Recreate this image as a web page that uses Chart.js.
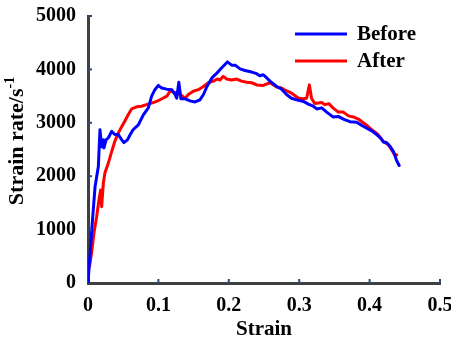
<!DOCTYPE html>
<html>
<head>
<meta charset="utf-8">
<script src="https://cdn.jsdelivr.net/npm/chart.js@4/dist/chart.umd.min.js"></script>
<style>
  body { margin: 0; background: #fff; }
</style>
</head>
<body>
<canvas id="chart" width="451" height="340"></canvas>
<script>
// values
const beforeStrain = [0, 0.005, 0.010, 0.0123, 0.0147, 0.017, 0.0194, 0.0218, 0.0227, 0.0256, 0.029, 0.0336, 0.038, 0.043, 0.048, 0.051, 0.056, 0.060, 0.064, 0.0715, 0.0786, 0.0857, 0.0904, 0.095, 0.0999, 0.1047, 0.1118, 0.119, 0.1236, 0.126, 0.129, 0.132, 0.138, 0.145, 0.152, 0.159, 0.164, 0.169, 0.176, 0.183, 0.190, 0.198, 0.204, 0.209, 0.216, 0.223, 0.2325, 0.2396, 0.244, 0.249, 0.254, 0.2585, 0.268, 0.275, 0.282, 0.289, 0.299, 0.306, 0.313, 0.320, 0.325, 0.332, 0.339, 0.348, 0.3555, 0.3627, 0.372, 0.3817, 0.389, 0.396, 0.403, 0.410, 0.416, 0.4195, 0.424, 0.429, 0.434, 0.4385, 0.442];
const beforeRate = [0, 940, 1800, 1990, 2180, 2870, 2550, 2680, 2530, 2680, 2720, 2840, 2780, 2780, 2680, 2630, 2680, 2780, 2870, 2960, 3150, 3280, 3500, 3620, 3700, 3650, 3630, 3620, 3530, 3460, 3760, 3450, 3450, 3410, 3390, 3430, 3530, 3680, 3840, 3930, 4030, 4140, 4080, 4080, 4010, 3980, 3950, 3920, 3880, 3900, 3840, 3780, 3680, 3630, 3530, 3460, 3420, 3400, 3350, 3310, 3260, 3280, 3200, 3110, 3120, 3070, 3020, 3010, 2950, 2900, 2850, 2780, 2710, 2640, 2630, 2560, 2460, 2290, 2200];

const afterStrain = [0.002, 0.005, 0.0085, 0.0123, 0.0156, 0.018, 0.0194, 0.0218, 0.024, 0.029, 0.0336, 0.038, 0.043, 0.048, 0.0526, 0.057, 0.062, 0.069, 0.076, 0.083, 0.0905, 0.0976, 0.105, 0.112, 0.1165, 0.1236, 0.131, 0.138, 0.1425, 0.1496, 0.1567, 0.164, 0.171, 0.178, 0.1837, 0.1875, 0.192, 0.197, 0.204, 0.211, 0.218, 0.2255, 0.2325, 0.2396, 0.249, 0.2585, 0.268, 0.275, 0.280, 0.287, 0.2917, 0.299, 0.306, 0.3105, 0.3145, 0.3175, 0.322, 0.332, 0.3366, 0.342, 0.348, 0.3555, 0.3627, 0.370, 0.377, 0.384, 0.391, 0.398, 0.405, 0.412, 0.4195, 0.4265, 0.431, 0.4347, 0.4385];
const afterRate = [300, 560, 940, 1240, 1560, 1740, 1430, 1870, 2060, 2250, 2460, 2650, 2810, 2930, 3040, 3150, 3260, 3300, 3310, 3340, 3370, 3400, 3450, 3500, 3590, 3570, 3530, 3460, 3530, 3590, 3620, 3680, 3750, 3780, 3820, 3800, 3870, 3820, 3800, 3820, 3780, 3760, 3750, 3710, 3700, 3750, 3670, 3650, 3610, 3570, 3530, 3460, 3450, 3460, 3710, 3460, 3360, 3380, 3340, 3360, 3280, 3200, 3200, 3130, 3110, 3070, 3000, 2930, 2850, 2780, 2650, 2590, 2500, 2420, 2400];

const xTickLabels = ['0', '0.1', '0.2', '0.3', '0.4', '0.5'];
const yTickLabels = ['0', '1000', '2000', '3000', '4000', '5000'];
const seriesNames = ['Before', 'After'];

const toPoints = (xs, ys) => xs.map((x, i) => ({ x: x, y: ys[i] }));

const FONT = 'Liberation Serif, "Times New Roman", serif';
const AXIS_COLOR = '#404040';

// small inward tick marks, the y title with superscript, and the legend
const extrasPlugin = {
    id: 'extras',
    afterDraw(chart) {
        const ctx = chart.ctx;
        const xs = chart.scales.x, ys = chart.scales.y;
        const area = chart.chartArea;
        ctx.save();
        ctx.strokeStyle = '#2b4a74';
        ctx.lineWidth = 2;
        xs.ticks.forEach(t => {
            if (t.value === 0) return;
            const px = xs.getPixelForValue(t.value);
            ctx.beginPath();
            ctx.moveTo(px, area.bottom);
            ctx.lineTo(px, area.bottom - 4);
            ctx.stroke();
        });
        ys.ticks.forEach(t => {
            if (t.value === 0) return;
            const py = ys.getPixelForValue(t.value);
            ctx.beginPath();
            ctx.moveTo(area.left, py);
            ctx.lineTo(area.left + 4, py);
            ctx.stroke();
        });

        // y axis title
        ctx.fillStyle = '#000';
        ctx.translate(23, 141);
        ctx.rotate(-Math.PI / 2);
        const main = 'Strain rate/s';
        ctx.font = 'bold 22px ' + FONT;
        const wMain = ctx.measureText(main).width;
        ctx.font = 'bold 14px ' + FONT;
        const wSup = ctx.measureText('-1').width;
        const start = -(wMain + wSup) / 2;
        ctx.textBaseline = 'alphabetic';
        ctx.textAlign = 'left';
        ctx.font = 'bold 22px ' + FONT;
        ctx.fillText(main, start, 0);
        ctx.font = 'bold 14px ' + FONT;
        ctx.fillText('-1', start + wMain, -9);
        ctx.restore();

        // legend
        ctx.save();
        ctx.font = 'bold 21px ' + FONT;
        ctx.textBaseline = 'middle';
        ctx.textAlign = 'left';
        chart.data.datasets.forEach((ds, i) => {
            const y = 34 + i * 27;
            ctx.strokeStyle = ds.borderColor;
            ctx.lineWidth = 3;
            ctx.beginPath();
            ctx.moveTo(295, y);
            ctx.lineTo(347, y);
            ctx.stroke();
            ctx.fillStyle = '#000';
            ctx.fillText(ds.label, 357, y + 1);
        });
        ctx.restore();
    }
};

new Chart(document.getElementById('chart'), {
    type: 'line',
    data: {
        datasets: [{
            label: seriesNames[0],
            data: toPoints(beforeStrain, beforeRate),
            borderColor: '#0000ff',
            borderWidth: 3,
            borderJoinStyle: 'round',
            borderCapStyle: 'round',
            pointRadius: 0,
            tension: 0,
            fill: false
        }, {
            label: seriesNames[1],
            data: toPoints(afterStrain, afterRate),
            borderColor: '#ff0000',
            borderWidth: 3,
            borderJoinStyle: 'round',
            borderCapStyle: 'round',
            pointRadius: 0,
            tension: 0,
            fill: false
        }]
    },
    options: {
        responsive: false,
        animation: false,
        layout: { padding: { left: 0, right: 11, top: 16, bottom: 0 } },
        plugins: {
            legend: { display: false },
            tooltip: { enabled: false }
        },
        scales: {
            x: {
                type: 'linear',
                min: 0,
                max: 0.5,
                afterFit: s => { s.height = 57; s.paddingLeft = 0; s.paddingRight = 0; },
                border: { color: AXIS_COLOR, width: 3 },
                grid: { display: false, drawTicks: false },
                ticks: {
                    stepSize: 0.1,
                    padding: 11,
                    color: '#000',
                    maxRotation: 0,
                    font: { family: FONT, size: 20, weight: 'bold' },
                    callback: (v, i) => xTickLabels[i]
                },
                title: {
                    display: true,
                    text: 'Strain',
                    color: '#000',
                    padding: { top: 0, bottom: 0 },
                    font: { family: FONT, size: 21, weight: 'bold', lineHeight: 1 }
                }
            },
            y: {
                type: 'linear',
                min: 0,
                max: 5000,
                afterFit: s => { s.width = 88; s.paddingTop = 0; s.paddingBottom = 0; },
                border: { color: AXIS_COLOR, width: 3 },
                grid: { display: false, drawTicks: false },
                ticks: {
                    stepSize: 1000,
                    padding: 12,
                    color: '#000',
                    font: { family: FONT, size: 20, weight: 'bold' },
                    callback: (v, i) => yTickLabels[i]
                }
            }
        }
    },
    plugins: [extrasPlugin]
});
</script>
</body>
</html>
